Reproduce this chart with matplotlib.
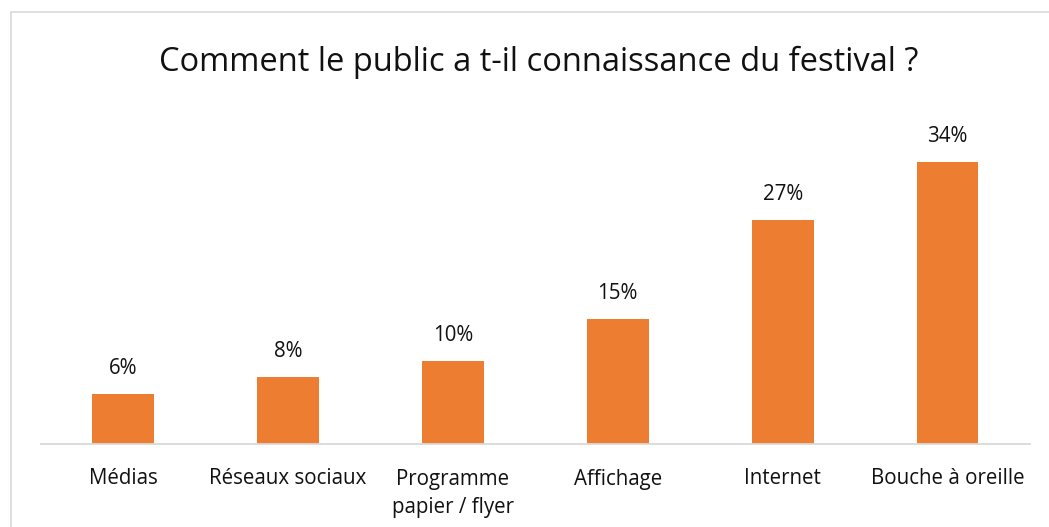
import matplotlib.pyplot as plt
from matplotlib.patches import Rectangle

categories = ["Médias", "Réseaux sociaux", "Programme\npapier / flyer", "Affichage", "Internet", "Bouche à oreille"]
values = [6, 8, 10, 15, 27, 34]
labels = ["6%", "8%", "10%", "15%", "27%", "34%"]

W, H = 1049, 527
fig = plt.figure(figsize=(W / 100, H / 100), dpi=100)
plt.rcParams['font.family'] = ['Open Sans', 'DejaVu Sans']

# chart area border (only top/left visible)
fig.patches.append(Rectangle((11 / W, -0.1), 1.2, (H - 12) / H + 0.1, transform=fig.transFigure,
                             fill=False, edgecolor='#d9d9d9', linewidth=1.2))

ax_left = 40.5 / W
ax_right = 1030 / W
ax_bottom = (H - 443.5) / H
px_per = 8.27
ymax = 40
ax_height = ymax * px_per / H
ax = fig.add_axes([ax_left, ax_bottom, ax_right - ax_left, ax_height])

x = range(len(categories))
ax.bar(x, values, width=0.375, color='#ed7d31')
ax.set_xlim(-0.5, len(categories) - 0.5)
ax.set_ylim(0, ymax)
for s in ['top', 'right', 'left']:
    ax.spines[s].set_visible(False)
ax.spines['bottom'].set_color('#d9d9d9')
ax.spines['bottom'].set_linewidth(1.3)
ax.set_yticks([])
ax.set_xticks(list(x))
ax.set_xticklabels(categories, fontsize=14.8, color='#111111', linespacing=1.5)
ax.tick_params(axis='x', length=0, pad=18)

for xi, v, lab in zip(x, values, labels):
    ax.annotate(lab, (xi, v), xytext=(0, 18.5), textcoords='offset points',
                ha='center', va='center', fontsize=14.8, color='#111111')

fig.text(539 / W, (H - 62) / H, "Comment le public a t-il connaissance du festival ?",
         ha='center', va='center', fontsize=23.5, color='#111111')

fig.savefig('out.png', dpi=100, facecolor='white')
